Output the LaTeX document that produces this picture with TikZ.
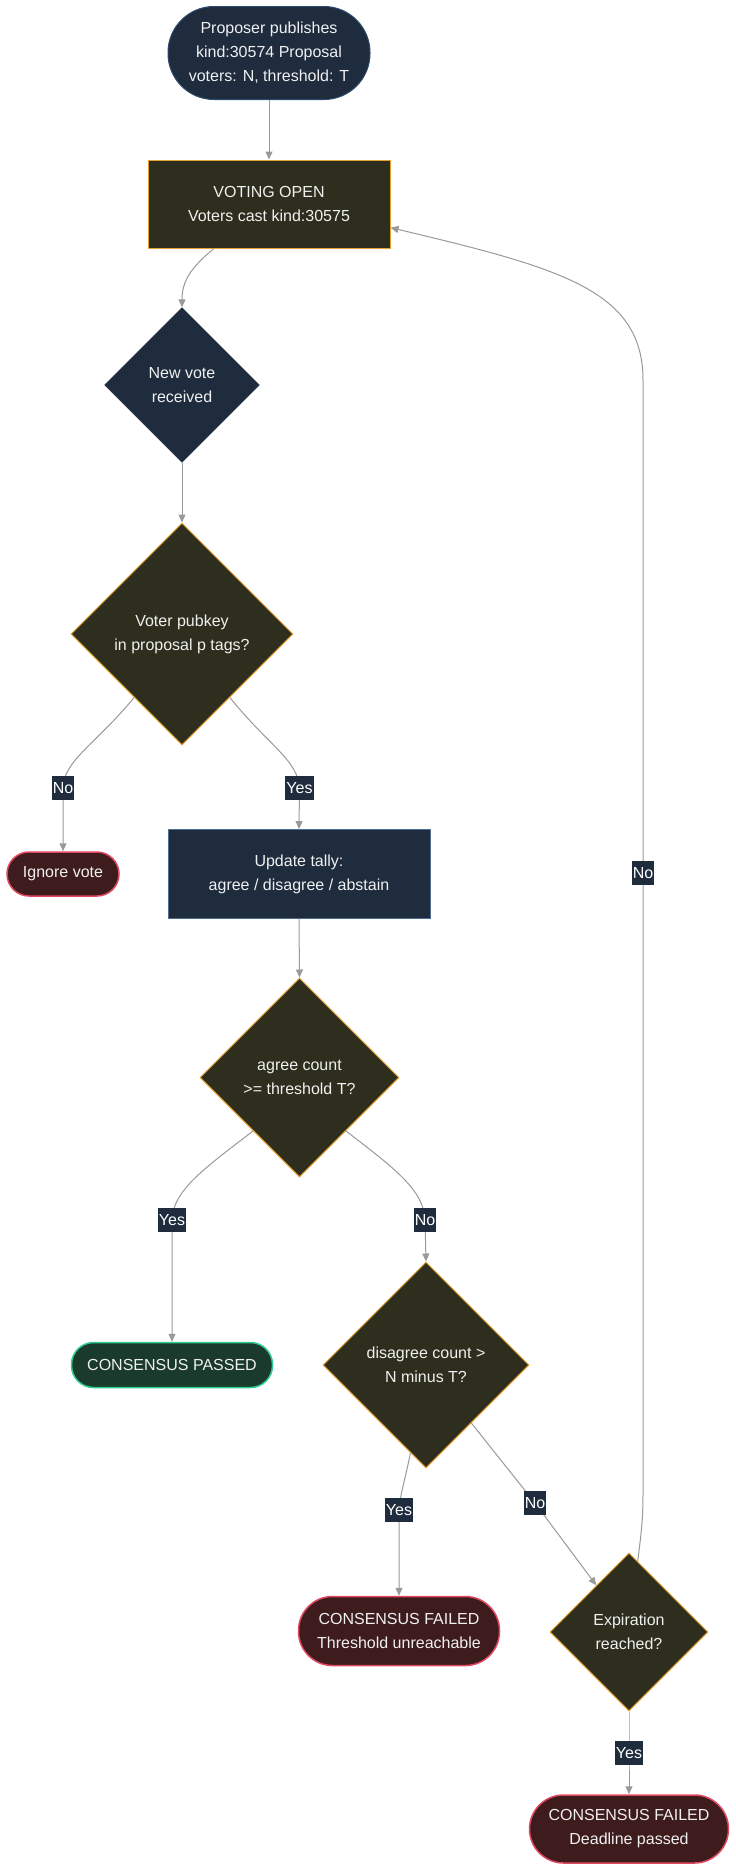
\documentclass[tikz,border=0pt]{standalone}
\usepackage{fontspec}
\setmainfont{Liberation Sans}
\usetikzlibrary{shapes.geometric,arrows.meta}
\definecolor{navy}{HTML}{1E2C3E}
\definecolor{navyline}{HTML}{4F6E92}
\definecolor{startline}{HTML}{2E4A6C}
\definecolor{olivefill}{HTML}{2E2E1E}
\definecolor{orangeline}{HTML}{E6A230}
\definecolor{redfill}{HTML}{3E1C1E}
\definecolor{redline}{HTML}{E0485F}
\definecolor{greenfill}{HTML}{1A3A2C}
\definecolor{greenline}{HTML}{2ECC8F}
\definecolor{edgegray}{HTML}{999999}
\definecolor{txt}{HTML}{F0F0F0}
\begin{document}
\begin{tikzpicture}[x=1pt,y=-1pt,
  every node/.style={text=txt, font=\fontsize{16}{24}\selectfont, align=center},
  pill/.style={rectangle, rounded corners=#1, inner sep=0pt},
  olive/.style={fill=olivefill, draw=orangeline, line width=1pt},
  redpill/.style={fill=redfill, draw=redline, line width=1.5pt},
  greenpill/.style={fill=greenfill, draw=greenline, line width=1.5pt},
  dia/.style={diamond, inner sep=0pt, minimum width=#1, minimum height=#1},
  edge/.style={draw=edgegray, line width=1pt, -{Triangle[length=8pt,width=7pt]}},
  lbl/.style={fill=navy, inner xsep=1pt, inner ysep=0pt, minimum height=24pt, text=white}
]
\path[use as bounding box] (0,0) rectangle (736,1872);

% nodes
\node[pill=46pt, fill=navy, draw=startline, line width=1pt, minimum width=202pt, minimum height=93pt] (start) at (269,53) {Proposer publishes\\kind:30574 Proposal\\voters: N, threshold: T};
\node[rectangle, olive, minimum width=242pt, minimum height=88pt] (open) at (269,204) {VOTING OPEN\\Voters cast kind:30575};
\node[dia=155pt, fill=navy, draw=navy] (nv) at (182,385) {New vote\\received};
\node[dia=222pt, olive] (vp) at (182,634) {Voter pubkey\\in proposal p tags?};
\node[pill=22pt, redpill, minimum width=112pt, minimum height=44pt] (ign) at (63,874) {Ignore vote};
\node[rectangle, fill=navy, draw=navyline, line width=0.8pt, minimum width=262pt, minimum height=89pt] (upd) at (299,874) {Update tally:\\agree / disagree / abstain};
\node[dia=199pt, olive] (agr) at (299.5,1077.5) {agree count\\>= threshold T?};
\node[pill=22pt, greenpill, minimum width=201pt, minimum height=45pt] (pass) at (172,1365) {CONSENSUS PASSED};
\node[dia=206pt, olive] (dis) at (426,1365) {disagree count >\\N minus T?};
\node[pill=34pt, redpill, minimum width=201pt, minimum height=69pt] (fthr) at (399,1631) {CONSENSUS FAILED\\Threshold unreachable};
\node[dia=158pt, olive] (exp) at (629,1632) {Expiration\\reached?};
\node[pill=34pt, redpill, minimum width=199pt, minimum height=68pt] (fdl) at (629,1829) {CONSENSUS FAILED\\Deadline passed};

% label positions
\coordinate (lNo1) at (63,788);
\coordinate (lYes1) at (299.5,788);
\coordinate (lYes2) at (172,1220);
\coordinate (lNo2) at (425,1220);
\coordinate (lYes3) at (399,1510);
\coordinate (lNo3) at (535,1503);
\coordinate (lYes4) at (629,1753);
\coordinate (lNo4) at (643,873);

% edges
\draw[edge] (start.south) -- (open.north);
\draw[edge] (open.219) .. controls (190,268) and (182,282) .. (nv.north);
\draw[edge] (nv.south) -- (vp.north);
\draw[edge] (vp.233) .. controls (95,745) and (64,760) .. (lNo1) -- (ign.north);
\draw[edge] (vp.307) .. controls (268,745) and (298,760) .. (lYes1) -- (upd.north);
\draw[edge] (agr.229) .. controls (205,1168) and (173,1190) .. (lYes2) -- (pass.north);
\draw[edge] (upd.south) -- (agr.north);
\draw[edge] (agr.311) .. controls (394,1168) and (424,1190) .. (lNo2) -- (dis.north);
\draw[edge] (dis.260) .. controls (405,1480) and (400,1495) .. (lYes3) -- (fthr.north);
\draw[edge] (dis.308) -- (lNo3) -- (exp.125);
\draw[edge] (exp.south) -- (lYes4) -- (fdl.north);
\draw[edge] (exp.83) .. controls (641,1535) and (643,1520) .. (643,1495) -- (lNo4) -- (643,380) .. controls (643,290) and (560,268) .. (open.349);

% edge labels
\node[lbl] (tNo1) at (lNo1) {No};
\node[lbl] (tYes1) at (lYes1) {Yes};
\node[lbl] (tYes2) at (lYes2) {Yes};
\node[lbl] (tNo2) at (lNo2) {No};
\node[lbl] (tYes3) at (lYes3) {Yes};
\node[lbl] (tNo3) at (lNo3) {No};
\node[lbl] (tYes4) at (lYes4) {Yes};
\node[lbl] (tNo4) at (lNo4) {No};
\end{tikzpicture}
\end{document}
